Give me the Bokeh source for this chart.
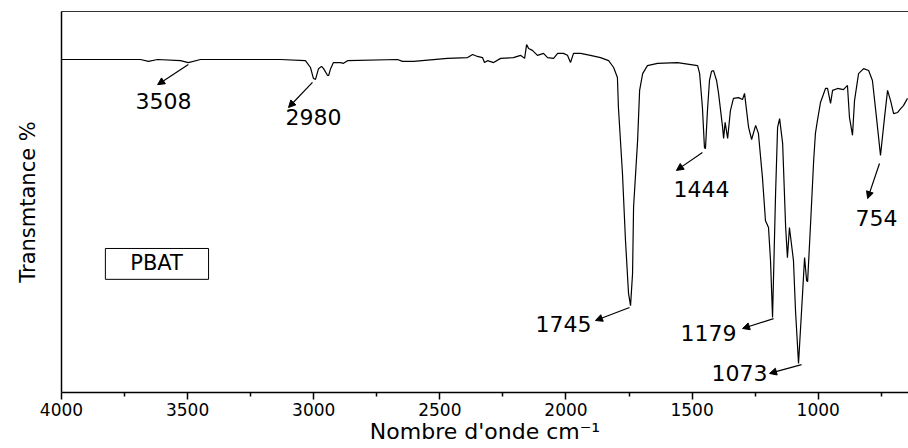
from bokeh.plotting import figure
from bokeh.models import (Range1d, LinearAxis, FixedTicker,
                          Arrow, NormalHead, Label, BoxAnnotation)
from bokeh.embed import file_html
from bokeh.resources import INLINE

# FTIR spectrum of PBAT (wavenumber in cm-1, transmittance in arbitrary %)
wavenumber = [4000, 3845, 3687, 3655, 3619, 3528, 3497, 3449, 3251, 3132,
              3033, 3013, 3001, 2993, 2981, 2969, 2961, 2945, 2941, 2933,
              2922, 2894, 2882, 2866, 2668, 2648, 2604, 2470, 2390, 2370,
              2351, 2331, 2323, 2311, 2287, 2259, 2208, 2180, 2164, 2156,
              2148, 2133, 2113, 2089, 2073, 2049, 2033, 2010, 1994, 1982,
              1970, 1942, 1903, 1863, 1831, 1811, 1796, 1792, 1776, 1764,
              1752, 1744, 1736, 1732, 1716, 1708, 1696, 1677, 1637, 1558,
              1478, 1470, 1459, 1451, 1447, 1439, 1431, 1423, 1415, 1403,
              1395, 1379, 1375, 1369, 1359, 1348, 1336, 1316, 1300, 1292,
              1276, 1264, 1248, 1237, 1221, 1209, 1197, 1189, 1181, 1169,
              1161, 1153, 1141, 1129, 1122, 1114, 1098, 1090, 1078, 1062,
              1054, 1046, 1042, 1030, 1018, 1011, 1003, 991, 971, 963,
              951, 943, 923, 900, 884, 876, 864, 856, 840, 820,
              800, 785, 769, 753, 737, 725, 713, 701, 685, 673,
              662, 646]
transmittance = [87.4, 87.4, 87.4, 86.9, 87.4, 87.1, 86.6, 87.4, 87.4, 87.4,
                 87.1, 85.3, 82.4, 82.2, 85.0, 85.6, 85.0, 83.2, 83.2, 85.0,
                 86.6, 86.6, 86.4, 87.1, 87.4, 86.9, 86.9, 87.7, 87.9, 88.7,
                 88.2, 87.9, 86.6, 87.1, 86.6, 87.7, 87.9, 88.5, 87.7, 91.3,
                 90.3, 89.8, 88.5, 89.0, 87.9, 87.7, 89.0, 89.0, 88.5, 86.6,
                 89.0, 89.0, 88.5, 87.9, 87.1, 85.3, 82.7, 74.8, 57.5, 39.9,
                 26.0, 22.8, 31.2, 48.6, 66.1, 79.3, 83.7, 85.8, 86.4, 86.6,
                 85.8, 83.7, 74.8, 64.3, 64.0, 74.0, 81.9, 84.3, 84.5, 81.9,
                 78.5, 69.6, 66.7, 70.9, 66.7, 74.0, 77.2, 77.4, 76.9, 78.5,
                 69.6, 66.4, 70.1, 68.0, 56.4, 45.1, 43.3, 34.6, 19.7, 52.2,
                 69.6, 71.9, 65.4, 43.3, 35.4, 43.3, 34.6, 21.5, 7.6, 26.0,
                 35.4, 29.4, 29.1, 44.6, 60.9, 68.0, 71.4, 76.1, 79.8, 79.8,
                 75.9, 79.3, 79.8, 79.5, 80.6, 72.2, 67.5, 76.6, 83.7, 85.0,
                 84.5, 81.9, 72.2, 62.2, 72.2, 79.3, 76.6, 73.2, 73.5, 74.5,
                 75.3, 77.2]

x_ticks = [4000, 3500, 3000, 2500, 2000, 1500, 1000]
x_minor_ticks = [3750, 3250, 2750, 2250, 1750, 1250, 750]

# peak annotations
peak_labels = ["3508", "2980", "1745", "1444", "1179", "1073", "754"]
arrow_tip_x = [3497, 3005, 1748, 1459, 1177, 1066, 757]
arrow_tip_y = [86.1, 81.4, 22.3, 63.0, 19.4, 7.3, 60.1]
arrow_tail_x = [3619, 3100, 1883, 1562, 1300, 1193, 804]
arrow_tail_y = [80.8, 74.8, 18.9, 58.3, 16.8, 5.0, 50.9]
label_x = [3596, 3001, 1899, 1463, 1324, 1201, 769]
label_y = [76.4, 72.2, 18.1, 53.5, 15.7, 5.0, 45.9]
label_align = ["center", "center", "right", "center", "right", "right", "center"]

sample_name = "PBAT"
FONT = "DejaVu Sans"

p = figure(width=908, height=448, output_backend="svg", toolbar_location=None,
           x_range=Range1d(4000, 642), y_range=Range1d(0, 100),
           x_axis_location=None, y_axis_location=None,
           min_border_left=61, min_border_right=0, min_border_top=11,
           min_border_bottom=56)
p.outline_line_color = None
p.xgrid.visible = False
p.ygrid.visible = False
p.background_fill_color = "white"
p.border_fill_color = "white"

# bottom axis
xa = LinearAxis(ticker=FixedTicker(ticks=x_ticks, minor_ticks=x_minor_ticks),
                axis_label="Nombre d'onde cm\u207b\u00b9")
xa.axis_line_color = "black"
xa.axis_line_width = 1.5
xa.major_tick_line_color = "black"
xa.minor_tick_line_color = "black"
xa.major_tick_line_width = 1.5
xa.minor_tick_line_width = 1.5
xa.major_tick_in = 0
xa.major_tick_out = 7
xa.minor_tick_in = 0
xa.minor_tick_out = 4
xa.major_label_text_font = FONT
xa.major_label_text_font_size = "17px"
xa.major_label_text_color = "black"
xa.major_label_standoff = 3
xa.axis_label_text_font = FONT
xa.axis_label_text_font_size = "22px"
xa.axis_label_text_font_style = "normal"
xa.axis_label_text_color = "black"
xa.axis_label_standoff = 0
p.add_layout(xa, "below")

# left axis (no ticks)
ya = LinearAxis(ticker=FixedTicker(ticks=[]), axis_label="Transmtance %")
ya.axis_line_color = "black"
ya.axis_line_width = 1.5
ya.major_tick_out = 0
ya.major_tick_in = 0
ya.minor_tick_out = 0
ya.minor_tick_in = 0
ya.major_label_text_font_size = "0px"
ya.axis_label_text_font = FONT
ya.axis_label_text_font_size = "21px"
ya.axis_label_text_font_style = "normal"
ya.axis_label_text_color = "black"
ya.axis_label_standoff = 22
p.add_layout(ya, "left")

# top frame line
ta = LinearAxis(ticker=FixedTicker(ticks=[]))
ta.axis_line_color = "#333333"
ta.axis_line_width = 1
ta.major_tick_out = 0
ta.major_tick_in = 0
ta.minor_tick_out = 0
ta.minor_tick_in = 0
ta.major_label_text_font_size = "0px"
p.add_layout(ta, "above")

# spectrum
p.line(wavenumber, transmittance, line_color="black", line_width=1.2)

# peak arrows and labels
for i, txt in enumerate(peak_labels):
    p.add_layout(Arrow(x_start=arrow_tip_x[i], y_start=arrow_tip_y[i],
                       x_end=arrow_tail_x[i], y_end=arrow_tail_y[i],
                       line_color="black", line_width=1.2,
                       end=NormalHead(size=7, fill_color="black", line_color="black")))
    p.add_layout(Label(x=label_x[i], y=label_y[i], text=txt,
                       text_align=label_align[i], text_baseline="middle",
                       text_font=FONT, text_font_size="22px", text_color="black"))

# sample box
p.add_layout(BoxAnnotation(left=3826, right=3417, top=37.8, bottom=29.7,
                           fill_alpha=0, line_color="black", line_width=1,
                           line_alpha=1))
p.add_layout(Label(x=3623, y=33.9, text=sample_name, text_align="center",
                   text_baseline="middle", text_font=FONT,
                   text_font_size="21px", text_color="black"))

open("out.html", "w").write(file_html(p, INLINE))
